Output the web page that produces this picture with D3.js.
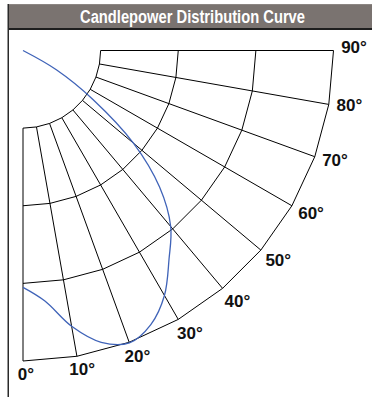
<!DOCTYPE html>
<html>
<head>
<meta charset="utf-8">
<script src="https://cdn.jsdelivr.net/npm/d3@7"></script>
<style>
  html, body { margin: 0; padding: 0; background: #fff; }
  svg { display: block; }
</style>
</head>
<body>
<svg id="chart" width="372" height="397"></svg>
<script>
// Title
const titleText = "Candlepower Distribution Curve";

// Polar grid: rays every 10 degrees (0 = straight down, 90 = horizontal)
const rayAngles = [0, 10, 20, 30, 40, 50, 60, 70, 80, 90];
const rayLabels = ["0°", "10°", "20°", "30°", "40°", "50°", "60°", "70°", "80°", "90°"];
// Rings in percent of maximum candlepower
const ringValues = [25, 50, 75, 100];

// Candlepower curve (angle in degrees, value in percent of maximum)
const cdAngles = [0, 5, 10, 15, 20, 25, 30, 35, 40, 45, 50, 55, 60, 63];
const cdValues = [76.3, 81.0, 90.2, 97.3, 100.2, 97.4, 91.1, 82.0, 74.0, 62.2, 46.5, 27.6, 12.4, 0];

const svg = d3.select("#chart");
const W = 372, H = 397;

// Header bar and frame
svg.append("rect")
  .attr("x", 8).attr("y", 5).attr("width", W - 8).attr("height", 24)
  .attr("fill", "#7a7370");
svg.append("line")
  .attr("x1", 8).attr("x2", W).attr("y1", 4.5).attr("y2", 4.5)
  .attr("stroke", "#8c8683").attr("stroke-width", 1);
svg.append("line")
  .attr("x1", 8).attr("x2", W).attr("y1", 29).attr("y2", 29)
  .attr("stroke", "#1e1e1e").attr("stroke-width", 2);
svg.append("line")
  .attr("x1", 8.25).attr("x2", 8.25).attr("y1", 4).attr("y2", H)
  .attr("stroke", "#2a2a2a").attr("stroke-width", 1.5);

svg.append("text")
  .attr("x", 192.5).attr("y", 23.3)
  .attr("text-anchor", "middle")
  .attr("fill", "#ffffff")
  .attr("font-family", "'Liberation Sans Narrow', 'Liberation Sans', Arial, sans-serif")
  .attr("font-weight", "bold")
  .attr("font-size", 17.5)
  .attr("textLength", 225)
  .attr("lengthAdjust", "spacingAndGlyphs")
  .text(titleText);

// Polar geometry
const cx = 23, cy = 50.5;
const r = d3.scaleLinear().domain([0, 100]).range([0, 310.5]);
const a = d3.scaleLinear().domain([0, 90]).range([0, Math.PI / 2]);
const pt = (deg, v) => [cx + r(v) * Math.sin(a(deg)), cy + r(v) * Math.cos(a(deg))];

const g = svg.append("g");
const rMin = ringValues[0], rMax = ringValues[ringValues.length - 1];

// Rays
g.selectAll("line.ray")
  .data(rayAngles)
  .join("line")
  .attr("class", "ray")
  .attr("x1", d => pt(d, rMin)[0]).attr("y1", d => pt(d, rMin)[1])
  .attr("x2", d => pt(d, rMax)[0]).attr("y2", d => pt(d, rMax)[1])
  .attr("stroke", "#000").attr("stroke-width", 1);

// Rings, drawn as straight segments between rays
const ringLine = d3.line();
g.selectAll("path.ring")
  .data(ringValues)
  .join("path")
  .attr("class", "ring")
  .attr("d", v => ringLine(rayAngles.map(d => pt(d, v))))
  .attr("fill", "none")
  .attr("stroke", "#000").attr("stroke-width", 1);

// Angle labels just outside the outer ring
g.selectAll("text.lab")
  .data(rayAngles)
  .join("text")
  .attr("class", "lab")
  .each(function(d, i) {
    const rr = 331 - 7 * Math.pow(Math.cos(a(d)), 8);
    const t = a(d + 0.5);
    d3.select(this)
      .attr("x", cx + rr * Math.sin(t))
      .attr("y", cy + rr * Math.cos(t))
      .text(rayLabels[i]);
  })
  .attr("text-anchor", "middle")
  .attr("dominant-baseline", "central")
  .attr("font-family", "'Liberation Sans', Arial, Helvetica, sans-serif")
  .attr("font-weight", "bold")
  .attr("font-size", 17)
  .attr("fill", "#111");

// Candlepower curve
const curveData = cdAngles.map((d, i) => ({ angle: d, value: cdValues[i] }));
const radial = d3.lineRadial()
  .angle(d => Math.PI - a(d.angle))
  .radius(d => r(d.value))
  .curve(d3.curveCatmullRom);

svg.append("path")
  .datum(curveData)
  .attr("transform", `translate(${cx},${cy})`)
  .attr("d", radial)
  .attr("fill", "none")
  .attr("stroke", "#3f63b8")
  .attr("stroke-width", 1.3);
</script>
</body>
</html>
